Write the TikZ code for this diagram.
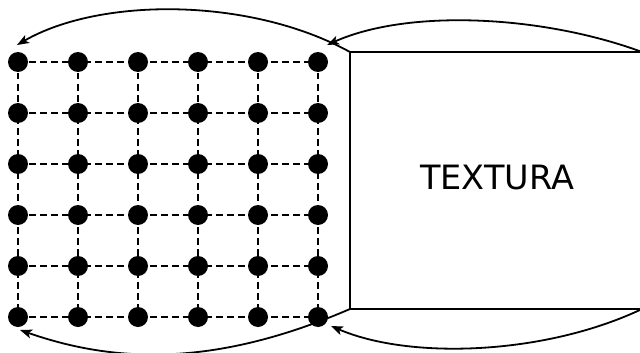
\documentclass[tikz,border=0pt]{standalone}
\usepackage{fontspec}
\setmainfont{DejaVu Sans}
\usetikzlibrary{arrows.meta}
\begin{document}
\begin{tikzpicture}[x=1pt,y=-1pt,
  dot/.style={circle,fill=black,inner sep=0pt,minimum size=20pt},
  gridline/.style={line width=1.6pt,dash pattern=on 6.5pt off 4.5pt},
  edge/.style={line width=2.2pt},
  maparrow/.style={line width=1.8pt,-{Stealth[length=12pt,width=9pt,inset=3pt]}}]
\useasboundingbox (0,0) rectangle (640,353);
% grid of dots
\foreach \i/\y in {1/62,2/113,3/164,4/215,5/266,6/317}{
  \foreach \j/\x in {1/18,2/78,3/138,4/198,5/258,6/318}{
    \coordinate (c-\i-\j) at (\x,\y);
  }
}
\foreach \i in {1,...,6}{
  \draw[gridline] (c-\i-1) -- (c-\i-6);
  \draw[gridline] (c-1-\i) -- (c-6-\i);
}
\foreach \i in {1,...,6}{
  \foreach \j in {1,...,6}{
    \node[dot] (d-\i-\j) at (c-\i-\j) {};
  }
}
% texture
\coordinate (tl) at (350,52);
\coordinate (tr) at (642,52);
\coordinate (bl) at (350,309);
\coordinate (br) at (642,309);
\draw[edge] (tr) -- (tl) -- (bl) -- (br);
\node[anchor=base,font=\fontsize{33.5}{40}\selectfont,inner sep=0pt] (tex) at (497,189) {TEXTURA};
% arrow end points
\coordinate (e-tr) at (327,45);
\coordinate (e-tl) at (17,45);
\coordinate (e-br) at (331,326);
\coordinate (e-bl) at (20,330);
\draw[maparrow] (tr) .. controls (545,16) and (410,8) .. (e-tr);
\draw[maparrow] (tl) .. controls (250,-3) and (100,-3) .. (e-tl);
\draw[maparrow] (br) .. controls (545,355) and (410,360) .. (e-br);
\draw[maparrow] (bl) .. controls (220,365) and (120,365) .. (e-bl);
\end{tikzpicture}
\end{document}
